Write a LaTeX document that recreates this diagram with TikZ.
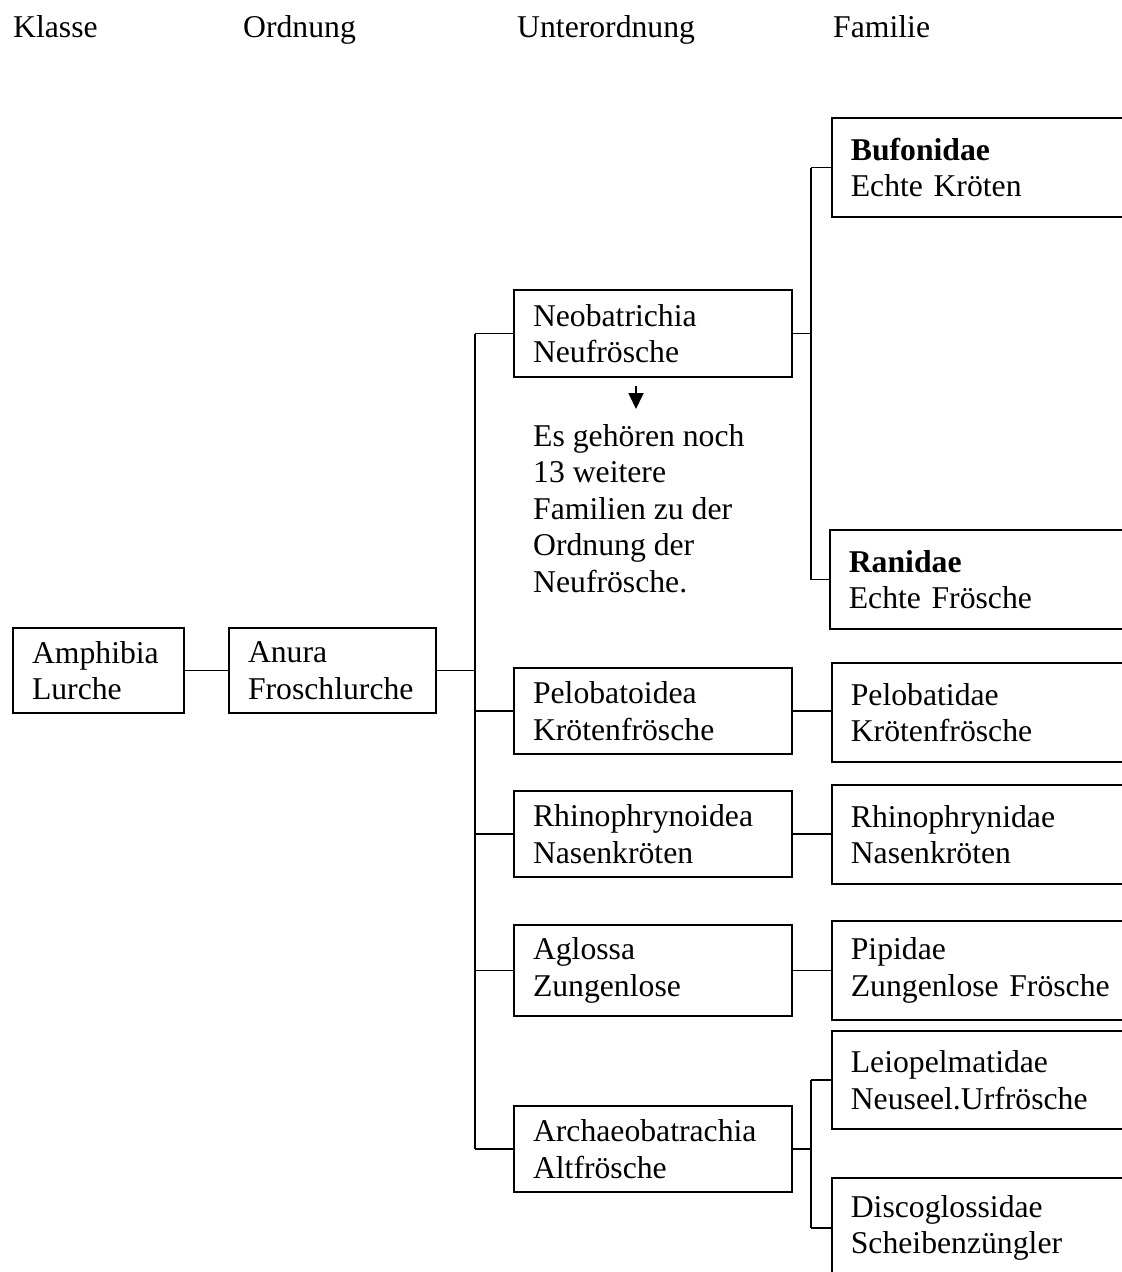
\documentclass[tikz,border=0pt]{standalone}
\usepackage{fontspec}
\setmainfont{Liberation Serif}
\usetikzlibrary{arrows.meta}
\begin{document}
\begin{tikzpicture}[x=1pt,y=1pt,
  every node/.style={font=\fontsize{31.7}{36.5}\selectfont},
  box/.style={draw, line width=1.7pt, align=left, inner xsep=19pt, inner ysep=0pt, anchor=center},
  lbox/.style={box, text width=240pt, minimum width=278pt},
  rbox/.style={box, text width=291pt, minimum width=329pt, minimum height=99pt, anchor=west},
  head/.style={anchor=base west, inner sep=0pt},
  conn/.style={line width=1.8pt}]
\useasboundingbox (0,0) rectangle (1122,-1272);
\clip (0,0) rectangle (1122,-1272);
\fill[white] (0,0) rectangle (1122,-1272);

% headers
\node[head] (hk) at (13,-37) {Klasse};
\node[head] (ho) at (243,-37) {Ordnung};
\node[head] (hu) at (517,-37) {Unterordnung};
\node[head] (hf) at (833,-37) {Familie};

% class and order
\node[box, text width=133pt, minimum width=171pt, minimum height=85pt] (amph) at (98.5,-670.5) {Amphibia\\Lurche};
\node[box, text width=169pt, minimum width=207pt, minimum height=85pt] (anura) at (332.5,-670.5) {Anura\\Froschlurche};

% suborders
\node[lbox, minimum height=87pt] (neo) at (653,-333.5) {Neobatrichia\\Neufrösche};
\node[lbox, minimum height=86pt] (pelo) at (653,-711) {Pelobatoidea\\Krötenfrösche};
\node[lbox, minimum height=86pt] (rhino) at (653,-834) {Rhinophrynoidea\\Nasenkröten};
\node[lbox, minimum height=91pt] (aglo) at (653,-970.5) {Aglossa\\Zungenlose};
\node[lbox, minimum height=86pt] (arch) at (653,-1149) {Archaeobatrachia\\Altfrösche};

% families
\node[rbox] (bufo) at (831,-167.5) {\textbf{Bufonidae}\\Echte Kröten};
\node[rbox] (rani) at (829,-579.5) {\textbf{Ranidae}\\Echte Frösche};
\node[rbox] (pelob) at (831,-712.5) {Pelobatidae\\Krötenfrösche};
\node[rbox] (rhinof) at (831,-834.5) {Rhinophrynidae\\Nasenkröten};
\node[rbox] (pipi) at (831,-970.5) {Pipidae\\Zungenlose Frösche};
\node[rbox, minimum height=98pt] (leio) at (831,-1080) {Leiopelmatidae\\Neuseel.Urfrösche};
\node[rbox, minimum height=100pt] (disco) at (831,-1228) {Discoglossidae\\Scheibenzüngler};

% note text
\node[anchor=north west, inner sep=0pt, align=left] (note) at (533,-424)
  {Es gehören noch\\13 weitere\\Familien zu der\\Ordnung der\\Neufrösche.};
\coordinate (a1) at (636,-386);
\coordinate (a2) at (636,-409);
\draw[conn, -{Triangle[length=16pt,width=15pt]}] (a1) -- (a2);

% trunk coordinates
\coordinate (t) at (475,0);
\coordinate (r) at (811,0);

% connectors
\draw[conn] (amph.east) -- (anura.east -| anura.west);
\draw[conn] (anura.east) -- (anura.east -| t);
\draw[conn] (neo.west -| t) -- (arch.west -| t);
\foreach \n in {neo,pelo,rhino,aglo,arch}
  \draw[conn] (\n.west -| t) -- (\n.west);

\draw[conn] (neo.east) -- (neo.east -| r);
\draw[conn] (bufo.west -| r) -- (rani.west -| r);
\draw[conn] (bufo.west -| r) -- (bufo.west);
\draw[conn] (rani.west -| r) -- (rani.west);

\draw[conn] (pelo.east) -- (pelo.east -| pelob.west);
\draw[conn] (rhino.east) -- (rhino.east -| rhinof.west);
\draw[conn] (aglo.east) -- (aglo.east -| pipi.west);

\draw[conn] (arch.east) -- (arch.east -| r);
\draw[conn] (leio.west -| r) -- (disco.west -| r);
\draw[conn] (leio.west -| r) -- (leio.west);
\draw[conn] (disco.west -| r) -- (disco.west);
\end{tikzpicture}
\end{document}
